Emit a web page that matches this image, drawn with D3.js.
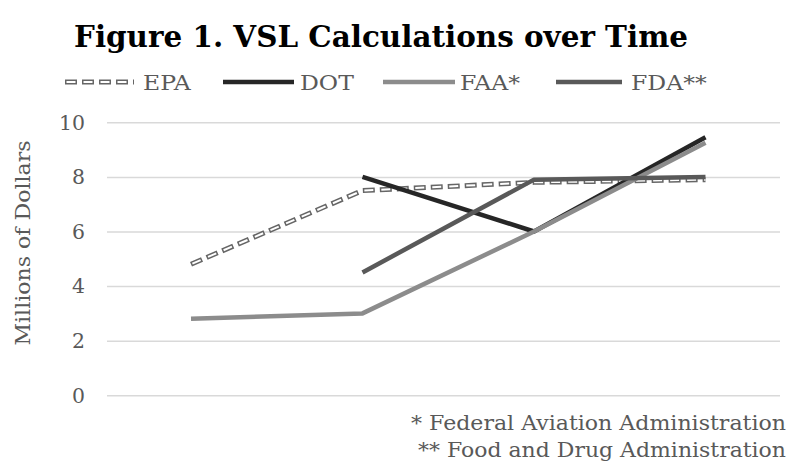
<!DOCTYPE html>
<html><head><meta charset="utf-8">
<script src="https://cdn.jsdelivr.net/npm/d3@7"></script>
<style>body{margin:0;background:#fff}svg{display:block}text{font-family:"DejaVu Serif",serif}</style>
</head><body>
<svg id="c" width="793" height="463"></svg>
<script>
const categories = ["P1","P2","P3","P4"];
const epa = [4.8, 7.5, 7.8, 7.9];
const dot = [null, 8.0, 6.0, 9.45];
const faa = [2.8, 3.0, 6.0, 9.25];
const fda = [null, 4.5, 7.9, 8.0];
const yTicks = [0,2,4,6,8,10];
const seriesNames = ["EPA","DOT","FAA*","FDA**"];
const footnotes = ["* Federal Aviation Administration","** Food and Drug Administration"];

const svg = d3.select("#c");
const gridL = 107, gridR = 780;
const x = d3.scalePoint().domain(categories).range([191, 705.5]);
const y = d3.scaleLinear().domain([0,10]).range([395.3, 122.3]);
const txt = "#595959";

// title
svg.append("text").attr("x", 381).attr("y", 47).attr("text-anchor","middle")
  .attr("font-size", 29).attr("font-weight","bold").attr("fill","#000")
  .attr("textLength", 614).attr("lengthAdjust","spacingAndGlyphs")
  .text("Figure 1. VSL Calculations over Time");

// gridlines + y axis
const yAxis = d3.axisLeft(y).tickValues(yTicks).tickSize(-(gridR-gridL)).tickPadding(22);
const ga = svg.append("g").attr("transform", `translate(${gridL},0)`).call(yAxis);
ga.select(".domain").remove();
ga.selectAll(".tick line").attr("stroke","#d9d9d9").attr("stroke-width",1.5);
ga.selectAll(".tick text").attr("fill",txt).attr("font-size",21).attr("font-family","DejaVu Serif")
  .attr("textLength", function(d){return d===10?26:13;}).attr("lengthAdjust","spacingAndGlyphs");

svg.append("text").attr("transform","translate(30,243) rotate(-90)").attr("text-anchor","middle")
  .attr("font-size",21).attr("fill",txt).attr("textLength",205).attr("lengthAdjust","spacingAndGlyphs")
  .text("Millions of Dollars");

const line = d3.line().defined(d=>d!=null).x((d,i)=>x(categories[i])).y(d=>y(d));

const data = [epa, dot, faa, fda];
const colors = ["#666666","#262626","#8c8c8c","#595959"];

function drawSeries(i, path) {
  if (i === 0) {
    svg.append("path").attr("d", path).attr("fill","none").attr("stroke",colors[0])
      .attr("stroke-width",5).attr("stroke-dasharray","12 5");
    svg.append("path").attr("d", path).attr("fill","none").attr("stroke","#fff")
      .attr("stroke-width",2).attr("stroke-dasharray","9 8").attr("stroke-dashoffset",-1.5);
  } else {
    svg.append("path").attr("d", path).attr("fill","none").attr("stroke",colors[i])
      .attr("stroke-width",4.5).attr("stroke-linejoin","round");
  }
}
data.forEach((vals,i)=> drawSeries(i, line(vals)));

// legend
const legItems = [
  {x1:65, x2:134, tx:143},
  {x1:223, x2:294, tx:300},
  {x1:383, x2:455, tx:460},
  {x1:556, x2:622, tx:631}
];
seriesNames.forEach((n,i)=>{
  const L = legItems[i];
  drawSeries(i, `M${L.x1},82H${L.x2}`);
  const t = svg.append("text").attr("x",L.tx).attr("y",90).attr("font-size",21).attr("fill",txt).text(n);
  const w = t.node().getComputedTextLength();
  t.attr("textLength", w*1.12).attr("lengthAdjust","spacingAndGlyphs");
});

// footnotes
const fnLen = [375, 368];
footnotes.forEach((f,i)=>{
  svg.append("text").attr("x",786).attr("y",430+i*27).attr("text-anchor","end")
    .attr("font-size",21).attr("fill",txt)
    .attr("textLength", fnLen[i]).attr("lengthAdjust","spacingAndGlyphs").text(f);
});
</script>
</body></html>
